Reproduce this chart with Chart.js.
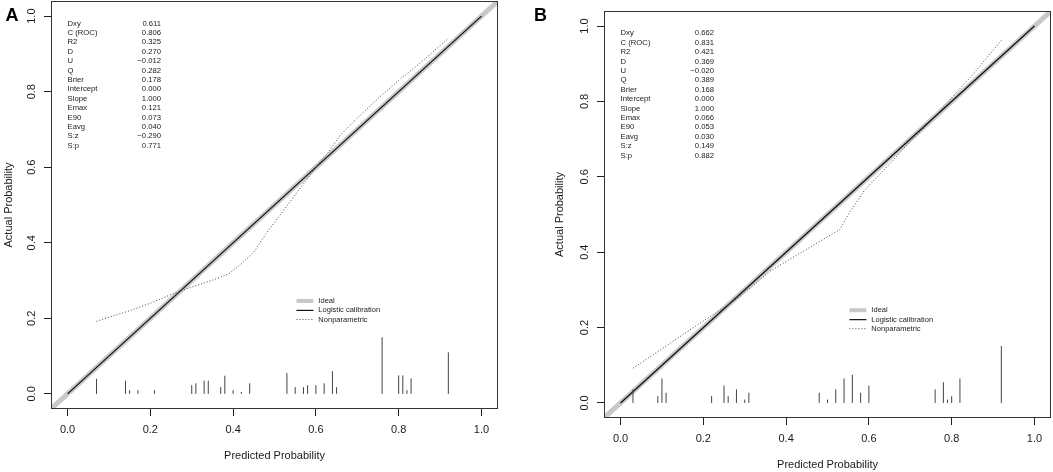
<!DOCTYPE html>
<html>
<head>
<meta charset="utf-8">
<script src="https://cdn.jsdelivr.net/npm/chart.js@4.4.1/dist/chart.umd.min.js"></script>
<style>
  html, body { margin: 0; padding: 0; background: #fff; }
  #wrap { position: relative; width: 1053px; height: 472px; overflow: hidden; }
  canvas { position: absolute; top: 0; }
  #chartA { left: 0; }
  #chartB { left: 527px; }
</style>
</head>
<body>
<div id="wrap">
  <canvas id="chartA" width="527" height="472"></canvas>
  <canvas id="chartB" width="526" height="472"></canvas>
</div>
<script>
const tickValues = [0, 0.2, 0.4, 0.6, 0.8, 1.0];
const tickLabels = ['0.0', '0.2', '0.4', '0.6', '0.8', '1.0'];

const statNames = ['Dxy', 'C (ROC)', 'R2', 'D', 'U', 'Q', 'Brier', 'Intercept',
  'Slope', 'Emax', 'E90', 'Eavg', 'S:z', 'S:p'];
const statsA = [0.611, 0.806, 0.325, 0.270, -0.012, 0.282, 0.178, 0.000,
  1.000, 0.121, 0.073, 0.040, -0.290, 0.771];
const statsB = [0.662, 0.831, 0.421, 0.369, -0.020, 0.389, 0.168, 0.000,
  1.000, 0.066, 0.053, 0.030, 0.149, 0.882];

const legendNames = ['Ideal', 'Logistic calibration', 'Nonparametric'];

// ideal and logistic calibration lines (intercept 0, slope 1)
const idealX = [-0.04, 1.04];
const idealY = [-0.04, 1.04];
const logisticX = [0, 1];
const logisticY = [0, 1];

// nonparametric (loess) curve
const nonparXA = [0.07, 0.10, 0.15, 0.20, 0.25, 0.30, 0.35, 0.39, 0.42, 0.45, 0.48,
  0.52, 0.57, 0.60, 0.63, 0.66, 0.70, 0.75, 0.80, 0.85, 0.92];
const nonparYA = [0.192, 0.203, 0.220, 0.240, 0.263, 0.283, 0.301, 0.318, 0.345, 0.375, 0.425,
  0.483, 0.556, 0.600, 0.640, 0.686, 0.730, 0.782, 0.830, 0.874, 0.941];
const nonparXB = [0.03, 0.08, 0.13, 0.18, 0.23, 0.28, 0.33, 0.36, 0.38, 0.43, 0.48,
  0.53, 0.55, 0.59, 0.65, 0.70, 0.75, 0.80, 0.85, 0.92];
const nonparYB = [0.092, 0.129, 0.166, 0.203, 0.239, 0.275, 0.320, 0.349, 0.362, 0.395, 0.428,
  0.460, 0.500, 0.565, 0.634, 0.694, 0.748, 0.810, 0.870, 0.962];

// distribution of predicted probabilities (spikes)
const spikeXA = [0.07, 0.14, 0.15, 0.17, 0.21, 0.30, 0.31, 0.33, 0.34, 0.37, 0.38, 0.40,
  0.42, 0.44, 0.53, 0.55, 0.57, 0.58, 0.60, 0.62, 0.64, 0.65, 0.76, 0.80, 0.81, 0.82,
  0.83, 0.92];
const spikeHA = [0.040, 0.035, 0.010, 0.010, 0.010, 0.023, 0.028, 0.035, 0.035, 0.018, 0.048, 0.010,
  0.005, 0.028, 0.055, 0.018, 0.018, 0.023, 0.023, 0.028, 0.060, 0.018, 0.150, 0.049, 0.049, 0.010,
  0.041, 0.110];
const spikeXB = [0.03, 0.09, 0.10, 0.11, 0.22, 0.25, 0.26, 0.28, 0.30, 0.31, 0.48, 0.50,
  0.52, 0.54, 0.56, 0.58, 0.60, 0.76, 0.78, 0.79, 0.80, 0.82, 0.92];
const spikeHB = [0.036, 0.018, 0.065, 0.027, 0.018, 0.046, 0.018, 0.036, 0.009, 0.027, 0.027, 0.009,
  0.036, 0.065, 0.075, 0.027, 0.046, 0.036, 0.055, 0.009, 0.018, 0.065, 0.151];

const FONT = '"Liberation Sans", Arial, Helvetica, sans-serif';
Chart.defaults.font.family = FONT;
Chart.defaults.color = '#1a1a1a';

function pairs(xs, ys) {
  return xs.map((x, i) => ({ x: x, y: ys[i] }));
}

function spikes(xs, hs) {
  const pts = [];
  xs.forEach((x, i) => {
    pts.push({ x: x, y: 0 }, { x: x, y: hs[i] }, { x: x, y: null });
  });
  return pts;
}

function fmt(v) {
  return v.toFixed(3).replace('-', '\u2212');
}

const overlay = {
  id: 'overlay',
  afterDatasetsDraw(chart, args, o) {
    const { ctx, chartArea: a } = chart;
    const xs = chart.scales.x, ys = chart.scales.y;
    ctx.save();

    // box around the plot
    ctx.strokeStyle = '#333';
    ctx.lineWidth = 1;
    ctx.strokeRect(Math.round(a.left) + 0.5, Math.round(a.top) + 0.5,
      Math.round(a.right - a.left) - 1, Math.round(a.bottom - a.top) - 1);

    // statistics
    ctx.font = '7.7px ' + FONT;
    ctx.fillStyle = '#222';
    ctx.textBaseline = 'middle';
    const lx = xs.getPixelForValue(0);
    const vx = xs.getPixelForValue(0.226);
    const top = ys.getPixelForValue(0.99) + 3.5;
    statNames.forEach((n, i) => {
      ctx.textAlign = 'left';
      ctx.fillText(n, lx, top + i * 9.4);
      ctx.textAlign = 'right';
      ctx.fillText(fmt(o.stats[i]), vx, top + i * 9.4);
    });

    // legend
    const sx0 = xs.getPixelForValue(0.553), sx1 = xs.getPixelForValue(0.594);
    const tx = xs.getPixelForValue(0.606);
    const rows = [0.246, 0.221, 0.197].map(v => ys.getPixelForValue(v));
    ctx.lineCap = 'butt';
    ctx.strokeStyle = '#c8c8c8'; ctx.lineWidth = 4; ctx.setLineDash([]);
    ctx.beginPath(); ctx.moveTo(sx0, rows[0]); ctx.lineTo(sx1, rows[0]); ctx.stroke();
    ctx.strokeStyle = '#111'; ctx.lineWidth = 1.2;
    ctx.beginPath(); ctx.moveTo(sx0, rows[1]); ctx.lineTo(sx1, rows[1]); ctx.stroke();
    ctx.strokeStyle = '#444'; ctx.lineWidth = 1; ctx.setLineDash([1, 2]);
    ctx.beginPath(); ctx.moveTo(sx0, rows[2]); ctx.lineTo(sx1, rows[2]); ctx.stroke();
    ctx.setLineDash([]);
    ctx.font = '7.5px ' + FONT;
    ctx.textAlign = 'left';
    legendNames.forEach((n, i) => ctx.fillText(n, tx, rows[i]));

    // panel letter
    ctx.font = 'bold 18px ' + FONT;
    ctx.fillStyle = '#000';
    ctx.textAlign = 'center';
    ctx.fillText(o.letter, o.letterX, 16);
    ctx.restore();
  }
};

function fixTicks(scale) {
  scale.ticks = tickValues.map(v => ({ value: v }));
}

function makeChart(id, p) {
  new Chart(document.getElementById(id), {
    type: 'scatter',
    data: {
      datasets: [
        {
          data: spikes(p.spikeX, p.spikeH), showLine: true, spanGaps: false,
          borderColor: '#444', borderWidth: 1, pointRadius: 0, order: 1
        },
        {
          data: pairs(p.nonparX, p.nonparY), showLine: true,
          borderColor: '#444', borderWidth: 1, borderDash: [1, 2], pointRadius: 0, order: 2
        },
        {
          data: pairs(logisticX, logisticY), showLine: true,
          borderColor: '#111', borderWidth: 1.3, pointRadius: 0, order: 3
        },
        {
          data: pairs(idealX, idealY), showLine: true, clip: 0,
          borderColor: '#c8c8c8', borderWidth: 5, pointRadius: 0, order: 4
        }
      ]
    },
    options: {
      responsive: false,
      animation: false,
      events: [],
      layout: { padding: p.padding },
      plugins: {
        legend: { display: false },
        tooltip: { enabled: false },
        overlay: { stats: p.stats, letter: p.letter, letterX: p.letterX }
      },
      scales: {
        x: {
          type: 'linear', min: -0.04, max: 1.04, offset: false,
          afterBuildTicks: fixTicks,
          afterFit(s) {
            s.height = p.xHeight;
            s.paddingLeft = s.paddingRight = 0;
          },
          border: { display: false },
          grid: { drawOnChartArea: false, drawTicks: true, tickLength: 7, tickColor: '#222' },
          ticks: {
            padding: 7.4, maxRotation: 0, autoSkip: false,
            font: { size: 11 }, color: '#1a1a1a',
            callback: (v, i) => tickLabels[i]
          },
          title: {
            display: true, text: 'Predicted Probability',
            font: { size: 11 }, color: '#1a1a1a',
            padding: { top: 0, bottom: p.xTitlePad }
          }
        },
        y: {
          type: 'linear', min: -0.04, max: 1.04,
          afterBuildTicks: fixTicks,
          afterFit(s) {
            s.width = p.yWidth;
            s.paddingTop = s.paddingBottom = 0;
          },
          border: { display: false },
          grid: { drawOnChartArea: false, drawTicks: true, tickLength: 7, tickColor: '#222' },
          ticks: {
            padding: 4.6, minRotation: 90, maxRotation: 90, crossAlign: 'center', autoSkip: false,
            font: { size: 11 }, color: '#1a1a1a',
            callback: (v, i) => tickLabels[i]
          },
          title: {
            display: true, text: 'Actual Probability',
            font: { size: 11 }, color: '#1a1a1a',
            padding: { top: p.yTitlePad, bottom: 0 }
          }
        }
      }
    },
    plugins: [overlay]
  });
}

makeChart('chartA', {
  spikeX: spikeXA, spikeH: spikeHA, nonparX: nonparXA, nonparY: nonparYA, stats: statsA,
  letter: 'A', letterX: 12,
  padding: { left: 0, right: 29, top: 1, bottom: 0 },
  xHeight: 63, yWidth: 51, xTitlePad: 9.4, yTitlePad: 2
});

makeChart('chartB', {
  spikeX: spikeXB, spikeH: spikeHB, nonparX: nonparXB, nonparY: nonparYB, stats: statsB,
  letter: 'B', letterX: 13.5,
  padding: { left: 23, right: 2, top: 11, bottom: 0 },
  xHeight: 54, yWidth: 54, xTitlePad: 0, yTitlePad: 3
});
</script>
</body>
</html>
